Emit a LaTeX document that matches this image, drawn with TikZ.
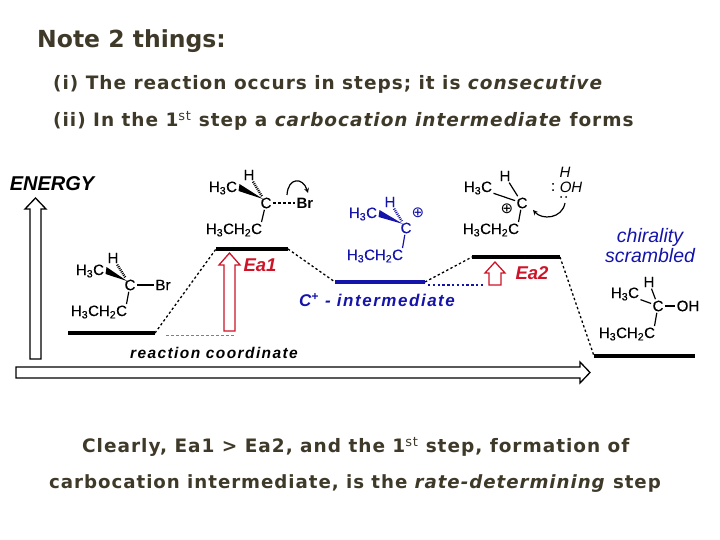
\documentclass[tikz,border=0pt]{standalone}
\usepackage{fontspec}
\setmainfont{DejaVu Sans}[LetterSpace=5.3]
\newfontfamily\titlefont{DejaVu Sans}
\newfontfamily\chemfont{Liberation Sans}[FakeBold=0.4]
\newfontfamily\labelfont{Liberation Sans}
\newfontfamily\widefont{Liberation Sans}[LetterSpace=9]
\usetikzlibrary{calc}
\definecolor{slidetext}{RGB}{62,57,40}
\definecolor{chemblue}{RGB}{20,20,170}
\definecolor{eared}{RGB}{205,20,40}
\tikzset{
  slideline/.style={anchor=west,inner sep=0pt,text=slidetext,font=\fontsize{18.5}{18.5}\selectfont\bfseries},
  chem/.style={inner sep=0pt,outer sep=1.5pt,font=\chemfont\fontsize{15}{15}\selectfont},
  plus/.style={inner sep=0pt,font=\titlefont\fontsize{15}{15}\selectfont},
  level/.style={line width=3.2pt},
  path/.style={dash pattern=on 2.4pt off 2.4pt,line width=1.3pt},
  blockarrow/.style={draw,line width=1.3pt,fill=white},
  bond/.style={line width=1.2pt},
  hashbond/.style={line width=2.4pt,dash pattern=on 1pt off 1pt},
}
\begin{document}
\begin{tikzpicture}[x=1pt,y=-1pt]
\useasboundingbox (0,0) rectangle (720,540);
% slide text
\node[slideline,font=\titlefont\fontsize{23.5}{23.5}\selectfont\bfseries] (title) at (37,41) {Note 2 things:};
\node[slideline] (first) at (53,84) {(i) The reaction occurs in steps; it is \textit{consecutive}};
\node[slideline] (second) at (53,121) {(ii) In the 1\textsuperscript{\mdseries st} step a \textit{carbocation intermediate} forms};
\node[slideline] (clearly) at (82,447) {Clearly, Ea1 > Ea2, and the 1\textsuperscript{\mdseries st} step, formation of};
\node[slideline,font=\fontsize{18.2}{18.2}\selectfont\bfseries] (carbo) at (49,484) {carbocation intermediate, is the \textit{rate-determining} step};
% axes
\node[chem,font=\labelfont\fontsize{20}{20}\selectfont\bfseries\itshape] (energy) at (52,184) {ENERGY};
\draw[blockarrow] (30,359) -- (30,209) -- (25,209) -- (35.5,198) -- (46,209) -- (41,209) -- (41,359) -- cycle;
\draw[blockarrow] (16,367) -- (580,367) -- (580,362) -- (590,372.5) -- (580,383) -- (580,378) -- (16,378) -- cycle;
\node[chem,font=\widefont\fontsize{15.5}{15.5}\selectfont\bfseries\itshape] (coord) at (214,353) {reaction coordinate};
% energy levels
\coordinate (a1) at (68,333); \coordinate (a2) at (155,333);
\coordinate (b1) at (216,249); \coordinate (b2) at (288,249);
\coordinate (c1) at (335,282); \coordinate (c2) at (425,282);
\coordinate (d1) at (472,257); \coordinate (d2) at (560,257);
\coordinate (e1) at (594,356); \coordinate (e2) at (695,356);
\draw[level] (a1) -- (a2);
\draw[level] (b1) -- (b2);
\draw[level,chemblue] (c1) -- (c2);
\draw[level] (d1) -- (d2);
\draw[level] (e1) -- (e2);
\draw[path] (a2) -- (b1);
\draw[path] (b2) -- (c1);
\draw[path] (c2) -- (d1);
\draw[path] (d2) -- (e1);
\coordinate (g1) at (166,335); \coordinate (g2) at (235,335);
\coordinate (h1) at (428,285); \coordinate (h2) at (485,285);
\draw[densely dashed,gray,line width=1pt] (g1) -- (g2);
\draw[dash pattern=on 2.4pt off 2.4pt,chemblue,line width=1.3pt] (h1) -- (h2);
% activation arrows
\draw[blockarrow,draw=eared] (224,331) -- (224,265) -- (219,265) -- (229.5,253) -- (240,265) -- (235,265) -- (235,331) -- cycle;
\draw[blockarrow,draw=eared] (489,285) -- (489,273) -- (485,273) -- (495,262) -- (505,273) -- (501,273) -- (501,285) -- cycle;
\node[chem,eared,font=\labelfont\fontsize{18.5}{18.5}\selectfont\bfseries\itshape] (ea1) at (260,265) {Ea1};
\node[chem,eared,font=\labelfont\fontsize{18.5}{18.5}\selectfont\bfseries\itshape] (ea2) at (532,273) {Ea2};
\node[chem,chemblue,font=\widefont\fontsize{17}{17}\selectfont\bfseries\itshape] (cplus) at (377,300) {C\textsuperscript{+} - intermediate};
\node[chem,chemblue,font=\labelfont\fontsize{19.5}{20}\selectfont\itshape,align=center] (chiral) at (650,246) {chirality\\scrambled};
% bromide
\node[chem] (h1a) at (113,258) {H};
\node[chem] (me1) at (90,271) {H\textsubscript{3}C};
\node[chem] (c1a) at (130,285) {C};
\node[chem] (br1) at (163,285) {Br};
\node[chem] (et1) at (99,312) {H\textsubscript{3}CH\textsubscript{2}C};
\fill ($(me1.east)+(1,-4)$) -- ($(me1.east)+(0,3)$) -- ($(c1a.center)+(-3,-4)$) -- cycle;
\draw[hashbond] (h1a) -- (c1a);
\draw[bond] (c1a) -- (br1);
\draw[bond] (c1a) -- ($(et1.north east)+(-2,0)$);
% transition state 1
\node[chem] (h2a) at (249,175) {H};
\node[chem] (me2) at (223,188) {H\textsubscript{3}C};
\node[chem] (c2a) at (266,203) {C};
\node[chem,font=\labelfont\fontsize{15}{15}\selectfont\bfseries] (br2) at (305,203) {Br};
\node[chem] (et2) at (234,230) {H\textsubscript{3}CH\textsubscript{2}C};
\fill ($(me2.east)+(1,-4)$) -- ($(me2.east)+(0,3)$) -- ($(c2a.center)+(-3,-4)$) -- cycle;
\draw[hashbond] (h2a) -- (c2a);
\draw[bond,densely dashed] (c2a) -- (br2);
\draw[bond] (c2a) -- ($(et2.north east)+(-2,0)$);
\coordinate (lv1) at (287,195); \coordinate (lv2) at (308,193);
\draw[bond,-stealth] (lv1) .. controls (288,177) and (303,177) .. (lv2);
% carbocation
\begin{scope}[chemblue]
\node[chem,chemblue] (h3a) at (390,202) {H};
\node[chem,chemblue] (me3) at (363,214) {H\textsubscript{3}C};
\node[chem,chemblue] (c3a) at (406,228) {C};
\node[plus,chemblue] (pl3) at (418,213) {⊕};
\node[chem,chemblue] (et3) at (375,256) {H\textsubscript{3}CH\textsubscript{2}C};
\fill ($(me3.east)+(1,-4)$) -- ($(me3.east)+(0,3)$) -- ($(c3a.center)+(-3,-4)$) -- cycle;
\draw[hashbond] (h3a) -- (c3a);
\draw[bond] (c3a) -- ($(et3.north east)+(-2,0)$);
\end{scope}
% transition state 2
\node[chem] (h4a) at (505,176) {H};
\node[chem] (me4) at (478,188) {H\textsubscript{3}C};
\node[chem] (c4a) at (522,203) {C};
\node[plus] (pl4) at (507,209) {⊕};
\node[chem] (et4) at (491,230) {H\textsubscript{3}CH\textsubscript{2}C};
\draw[bond] (h4a) -- (c4a);
\draw[bond] (me4) -- (c4a);
\draw[bond] (c4a) -- ($(et4.north east)+(-2,0)$);
\node[chem,font=\labelfont\fontsize{15}{15}\selectfont\itshape] (h4b) at (565,172) {H};
\node[chem,font=\labelfont\fontsize{15}{15}\selectfont\itshape] (oh4) at (571,187) {OH};
\node[chem] (col4) at (553,187) {:};
\fill (561,197) circle (1) (566,197) circle (1);
\coordinate (nu1) at (565,203); \coordinate (nu2) at (533,210);
\draw[bond,-stealth] (nu1) .. controls (562,219) and (542,220) .. (nu2);
% alcohol
\node[chem] (h5a) at (649,282) {H};
\node[chem] (me5) at (625,294) {H\textsubscript{3}C};
\node[chem] (c5a) at (658,306) {C};
\node[chem] (oh5) at (688,306) {OH};
\node[chem] (et5) at (627,334) {H\textsubscript{3}CH\textsubscript{2}C};
\draw[bond] (h5a) -- (c5a);
\draw[bond] (me5) -- (c5a);
\draw[bond] (c5a) -- (oh5);
\draw[bond] (c5a) -- ($(et5.north east)+(-2,0)$);
\end{tikzpicture}
\end{document}
